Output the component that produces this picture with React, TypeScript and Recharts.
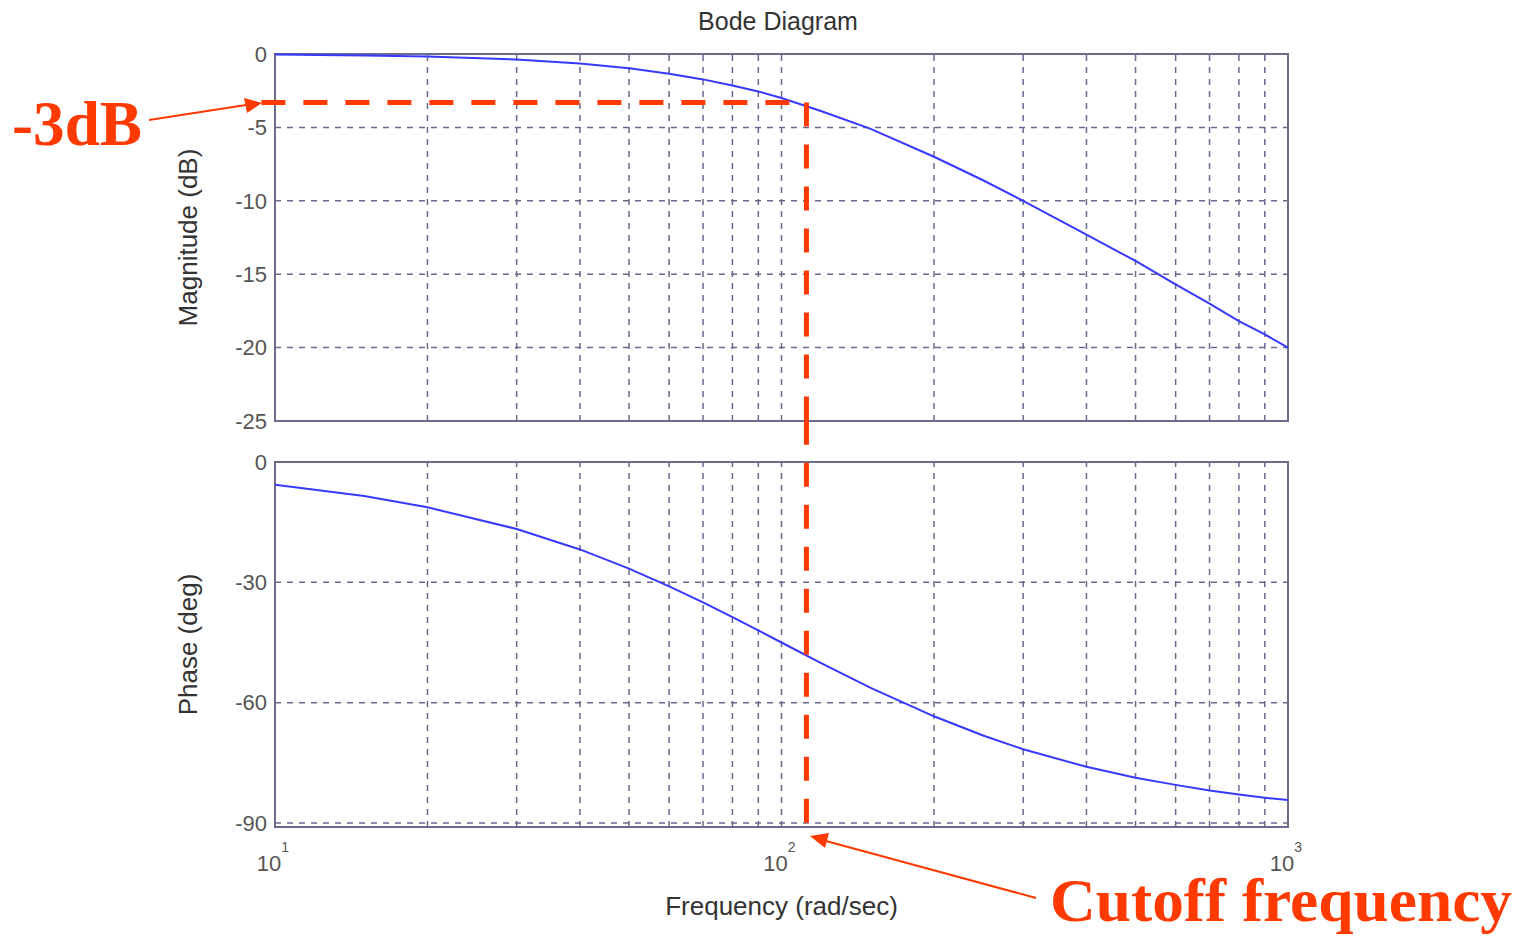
import { CartesianGrid, Line, LineChart, ReferenceArea, ReferenceLine, XAxis, YAxis } from 'recharts';

// frequencies in rad/sec
const frequencies = [10, 15, 20, 30, 40, 50, 60, 70, 80, 90, 100, 120, 150, 200, 250, 300, 400, 500, 600, 700, 800, 900, 1000];
const magnitudeDb = [-0.04, -0.1, -0.17, -0.37, -0.64, -0.97, -1.34, -1.73, -2.15, -2.55, -3.0, -3.9, -5.1, -7.0, -8.6, -10.0, -12.3, -14.1, -15.7, -17.0, -18.2, -19.1, -20.0];
const phaseDeg = [-5.7, -8.5, -11.3, -16.7, -21.8, -26.6, -31.0, -35.0, -38.7, -42.0, -45.0, -50.2, -56.3, -63.4, -68.2, -71.6, -76.0, -78.7, -80.5, -81.9, -82.9, -83.7, -84.3];

const magnitudeTicks = [0, -5, -10, -15, -20, -25];
const phaseTicks = [0, -30, -60, -90];
const decadeTicks = [10, 100, 1000];
const minorFrequencies = [20, 30, 40, 50, 60, 70, 80, 90, 100, 200, 300, 400, 500, 600, 700, 800, 900];

// annotation: cutoff marker
const cutoffFrequency = 112;
const cutoffLevelDb = -3.3;

const magData = frequencies.map((f, i) => ({ freq: f, mag: magnitudeDb[i] }));
const phaseData = frequencies.map((f, i) => ({ freq: f, phase: phaseDeg[i] }));

const FONT = '"Liberation Sans", Arial, sans-serif';
const SERIF = '"Liberation Serif", "Times New Roman", serif';
const GRID = '#6a6a8c';
const FRAME = '#6c6c8c';
const RED = '#ff3a00';
const BLUE = '#3838ff';
const DASH = '6 6';

const tickStyle = { fill: '#555', fontSize: 22, fontFamily: FONT };

const DecadeTick = ({ x, y, payload }: any) => {
  const exp = Math.round(Math.log10(payload.value));
  return (
    <text x={x - 2} y={y + 36} textAnchor="middle" fill="#555" fontSize={22} fontFamily={FONT}>
      10
      <tspan dy={-19} fontSize={14}>{exp}</tspan>
    </text>
  );
};

const minorGrid = minorFrequencies.map((f) => (
  <ReferenceLine key={f} x={f} stroke={GRID} strokeWidth={1.5} strokeDasharray={DASH} />
));

export default function App() {
  return (
    <div style={{ position: 'absolute', left: 0, top: 0, width: 1522, height: 937, background: '#fff', overflow: 'hidden' }}>
      <div style={{ position: 'absolute', left: 0, top: 0 }}>
        <LineChart width={1522} height={440} data={magData} margin={{ top: 54, right: 234, bottom: 19, left: 175 }}>
          <CartesianGrid vertical={false} stroke={GRID} strokeWidth={1.5} strokeDasharray={DASH} />
          <XAxis dataKey="freq" type="number" scale="log" domain={[10, 1000]} ticks={decadeTicks} allowDataOverflow hide />
          <YAxis
            type="number"
            domain={[-25, 0]}
            ticks={magnitudeTicks}
            width={100}
            axisLine={false}
            tickLine={false}
            tick={tickStyle}
            label={{ value: 'Magnitude (dB)', angle: -90, position: 'insideLeft', offset: 13, style: { textAnchor: 'middle', fill: '#333', fontSize: 26, fontFamily: FONT } }}
          />
          {minorGrid}
          <ReferenceArea x1={10} x2={1000} y1={-25} y2={0} fill="none" fillOpacity={0} stroke={FRAME} strokeWidth={2} />
          <Line dataKey="mag" stroke={BLUE} strokeWidth={2} dot={false} isAnimationActive={false} />
          <ReferenceLine
            segment={[{ x: 9.4, y: cutoffLevelDb }, { x: cutoffFrequency, y: cutoffLevelDb }]}
            stroke={RED}
            strokeWidth={5}
            strokeDasharray="24 18"
            ifOverflow="visible"
          />
          <ReferenceLine
            segment={[{ x: cutoffFrequency, y: cutoffLevelDb }, { x: cutoffFrequency, y: -25 }]}
            stroke={RED}
            strokeWidth={5}
            strokeDasharray="24 18"
            ifOverflow="visible"
          />
        </LineChart>
      </div>

      <div style={{ position: 'absolute', left: 0, top: 0 }}>
        <LineChart width={1522} height={937} data={phaseData} margin={{ top: 462, right: 234, bottom: 10, left: 175 }}>
          <CartesianGrid vertical={false} stroke={GRID} strokeWidth={1.5} strokeDasharray={DASH} />
          <XAxis
            dataKey="freq"
            type="number"
            scale="log"
            domain={[10, 1000]}
            ticks={decadeTicks}
            allowDataOverflow
            height={100}
            axisLine={false}
            tickLine={false}
            tick={<DecadeTick />}
            label={{ value: 'Frequency (rad/sec)', position: 'insideBottom', offset: 12, style: { fill: '#333', fontSize: 26, fontFamily: FONT } }}
          />
          <YAxis
            type="number"
            domain={[-91, 0]}
            ticks={phaseTicks}
            width={100}
            axisLine={false}
            tickLine={false}
            tick={tickStyle}
            label={{ value: 'Phase (deg)', angle: -90, position: 'insideLeft', offset: 13, style: { textAnchor: 'middle', fill: '#333', fontSize: 26, fontFamily: FONT } }}
          />
          {minorGrid}
          <ReferenceArea x1={10} x2={1000} y1={-91} y2={0} fill="none" fillOpacity={0} stroke={FRAME} strokeWidth={2} />
          <Line dataKey="phase" stroke={BLUE} strokeWidth={2} dot={false} isAnimationActive={false} />
          <ReferenceLine
            segment={[{ x: cutoffFrequency, y: 10.3 }, { x: cutoffFrequency, y: -90 }]}
            stroke={RED}
            strokeWidth={5}
            strokeDasharray="24 18"
            ifOverflow="visible"
          />
        </LineChart>
      </div>

      {/* title and hand-drawn annotations */}
      <svg width={1522} height={937} style={{ position: 'absolute', left: 0, top: 0, pointerEvents: 'none' }}>
        <text x={778} y={30} textAnchor="middle" fill="#333" fontSize={25} fontFamily={FONT}>
          Bode Diagram
        </text>
        <line x1={149} y1={120} x2={246} y2={105} stroke={RED} strokeWidth={2} />
        <polygon points="262,103 244,98 247,113" fill={RED} />
        <text x={12} y={145} fill={RED} fontSize={64} fontWeight="bold" fontFamily={SERIF} textLength={130} lengthAdjust="spacingAndGlyphs">
          -3dB
        </text>
        <line x1={1036} y1={898} x2={826} y2={841} stroke={RED} strokeWidth={2} />
        <polygon points="810,836 829,833 825,848" fill={RED} />
        <text x={1050} y={921} fill={RED} fontSize={62} fontWeight="bold" fontFamily={SERIF} textLength={462} lengthAdjust="spacingAndGlyphs">
          Cutoff frequency
        </text>
      </svg>
    </div>
  );
}
